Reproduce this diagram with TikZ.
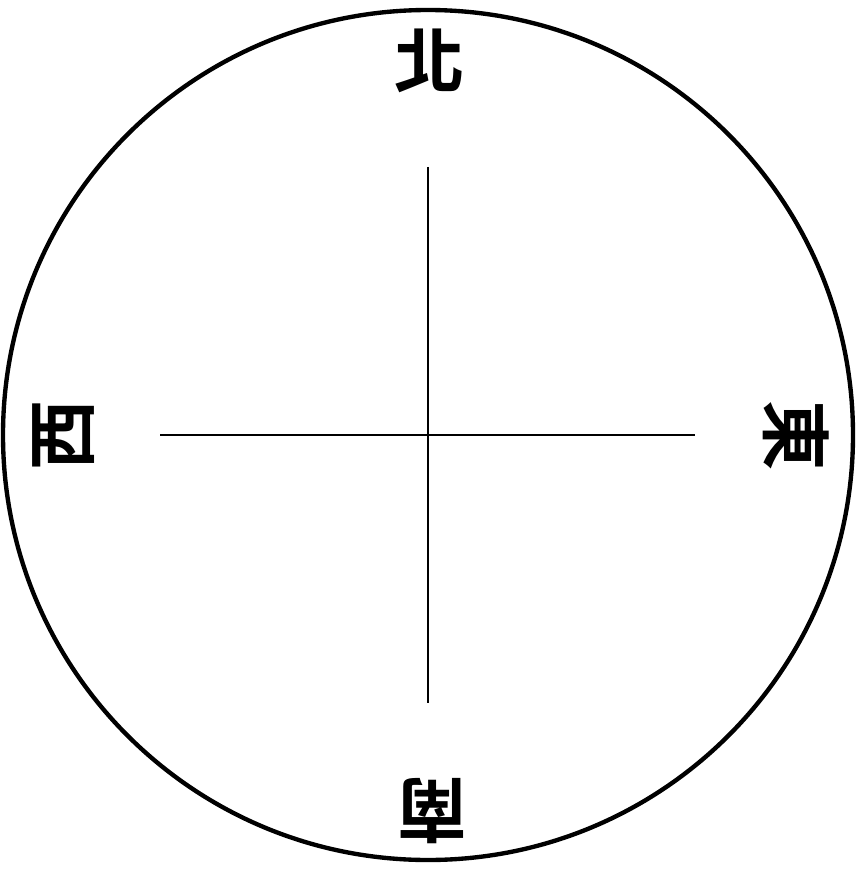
\documentclass[tikz,border=0pt]{standalone}
\usepackage{fontspec}
\newfontfamily\cjk{Noto Sans CJK TC Bold}
\usetikzlibrary{positioning}

\begin{document}
\begin{tikzpicture}[
  x=0.025cm,y=-0.025cm,
  rim/.style={line width=3.1pt},
  axis/.style={line width=1.7pt},
  dir/.style={font=\cjk\fontsize{50}{50}\selectfont,inner sep=0pt}]
\useasboundingbox (0,0) rectangle (856,873);
\coordinate (c) at (428,435);
\draw[rim] (c) circle (425);
\coordinate (n) at (428,167);\coordinate (s) at (428,703);
\coordinate (w) at (160,435);\coordinate (e) at (695,435);
\draw[axis](n)--(s);\draw[axis](w)--(e);
\node[dir] (bei) at (430,61) {北};
\node[dir,rotate=-90] (dong) at (796,436) {東};
\node[dir,rotate=180] (nan) at (432,811) {南};
\node[dir,rotate=90] (xi) at (64,435) {西};
\end{tikzpicture}
\end{document}
